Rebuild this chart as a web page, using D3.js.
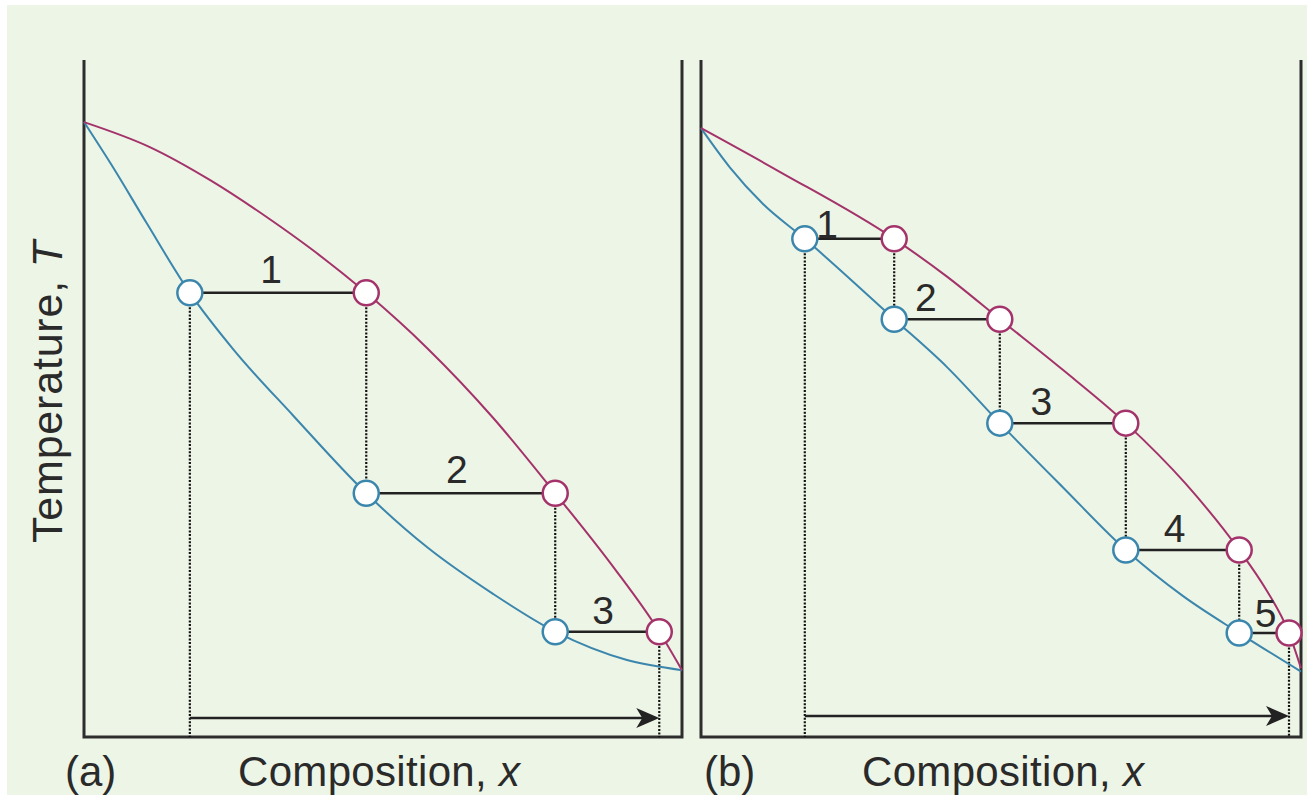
<!DOCTYPE html>
<html>
<head>
<meta charset="utf-8">
<script src="https://cdn.jsdelivr.net/npm/d3@7"></script>
<style>
  html, body { margin: 0; padding: 0; background: #fff; }
  svg { display: block; }
</style>
</head>
<body>
<div id="chart"></div>
<script>
// Boundary curves, [composition x, temperature T] (T on a 0..100 scale)
const upperA = [[0, 91.1], [0.110, 87.4], [0.211, 82.5], [0.306, 77.0], [0.383, 72.1], [0.472, 65.8],
                [0.574, 57.6], [0.684, 47.3], [0.788, 36.1], [0.885, 25.2], [0.962, 15.6], [1, 9.9]];
const lowerA = [[0, 91.1], [0.0485, 84.4], [0.105, 76.1], [0.177, 65.8], [0.25, 57.4], [0.35, 47.6],
                [0.472, 36.1], [0.574, 28.1], [0.684, 21.2], [0.788, 15.6], [0.908, 11.4], [1, 9.9]];
const upperB = [[0, 90.2], [0.132, 83.7], [0.322, 73.8], [0.41, 68.2], [0.498, 61.9], [0.603, 54.4],
                [0.708, 46.5], [0.807, 37.6], [0.897, 27.7], [0.94, 22.1], [0.980, 15.4], [1, 10.2]];
const lowerB = [[0, 90.2], [0.048, 84.4], [0.103, 79.0], [0.173, 73.8], [0.322, 61.9], [0.41, 54.8],
                [0.498, 46.5], [0.603, 37.0], [0.708, 27.7], [0.803, 20.9], [0.897, 15.4], [1, 9.7]];

// Stage compositions (each tie line i runs from stage i to stage i+1) and tie temperatures
const stagesA = [0.177, 0.472, 0.788, 0.962];
const tieTA = [65.8, 36.1, 15.6];
const stagesB = [0.173, 0.322, 0.498, 0.708, 0.897, 0.980];
const tieTB = [73.8, 61.9, 46.5, 27.7, 15.4];

const stepLabelsA = ["1", "2", "3"];
const stepLabelsB = ["1", "2", "3", "4", "5"];
const panelNames = ["(a)", "(b)"];
const xTitle = "Composition, ";
const yTitle = "Temperature, ";

// Colours
const colors = {
    bg: "#edf5e6",
    axis: "#2d2d2d",
    upper: "#a3336a",
    lower: "#3b86ad",
    tie: "#222"
};

const W = 1307, H = 799;
const svg = d3.select("#chart").append("svg")
    .attr("width", W)
    .attr("height", H)
    .style("font-family", "'Liberation Sans', Arial, sans-serif");

svg.append("rect")
    .attr("x", 7).attr("y", 5)
    .attr("width", W - 7).attr("height", H - 9)
    .attr("fill", colors.bg);

const panels = [
    { name: panelNames[0], upper: upperA, lower: lowerA, stages: stagesA, ties: tieTA, labels: stepLabelsA,
      left: 84, right: 682, arrowY: 718, labelFrac: [0.46, 0.48, 0.46], labelDy: [-10, -10, -8],
      nameX: 65, titleX: 379 },
    { name: panelNames[1], upper: upperB, lower: lowerB, stages: stagesB, ties: tieTB, labels: stepLabelsB,
      left: 701, right: 1301, arrowY: 716, labelFrac: [0.25, 0.3, 0.33, 0.43, 0.53], labelDy: [-1, -8, -8, -8, -6],
      nameX: 704, titleX: 1003 }
];

const plotTop = 60, plotBottom = 737;
const y = d3.scaleLinear().domain([0, 100]).range([plotBottom, plotTop + 2]);

panels.forEach(p => {
    const x = d3.scaleLinear().domain([0, 1]).range([p.left, p.right]);
    const g = svg.append("g");

    // frame: two verticals and the base
    g.append("path")
        .attr("d", `M${p.left},${plotTop}V${plotBottom}H${p.right}V${plotTop}`)
        .attr("fill", "none")
        .attr("stroke", colors.axis)
        .attr("stroke-width", 3);

    const n = p.stages.length - 1;

    // dotted drop lines
    const drops = [[p.stages[0], p.ties[0], 0]];
    for (let i = 0; i < n - 1; i++) drops.push([p.stages[i + 1], p.ties[i], p.ties[i + 1]]);
    drops.push([p.stages[n], p.ties[n - 1], 0]);
    g.selectAll("line.drop").data(drops).join("line")
        .attr("class", "drop")
        .attr("x1", d => x(d[0])).attr("x2", d => x(d[0]))
        .attr("y1", d => y(d[1])).attr("y2", d => d[2] === 0 ? plotBottom : y(d[2]))
        .attr("stroke", "#111")
        .attr("stroke-width", 2.2)
        .attr("stroke-dasharray", "2,1.6");

    // tie lines
    g.selectAll("line.tie").data(p.ties).join("line")
        .attr("class", "tie")
        .attr("x1", (d, i) => x(p.stages[i])).attr("x2", (d, i) => x(p.stages[i + 1]))
        .attr("y1", d => y(d)).attr("y2", d => y(d))
        .attr("stroke", colors.tie)
        .attr("stroke-width", 2.5);

    // curves
    const line = d3.line().x(d => x(d[0])).y(d => y(d[1])).curve(d3.curveMonotoneX);
    g.append("path").datum(p.lower)
        .attr("d", line).attr("fill", "none")
        .attr("stroke", colors.lower).attr("stroke-width", 2);
    g.append("path").datum(p.upper)
        .attr("d", line).attr("fill", "none")
        .attr("stroke", colors.upper).attr("stroke-width", 2);

    // arrow along the base
    const x0 = x(p.stages[0]), x1 = x(p.stages[n]), ay = p.arrowY;
    g.append("line")
        .attr("x1", x0).attr("x2", x1 - 14)
        .attr("y1", ay).attr("y2", ay)
        .attr("stroke", colors.tie).attr("stroke-width", 2.5);
    g.append("path")
        .attr("d", `M${x1},${ay}L${x1 - 23},${ay - 10}L${x1 - 17},${ay}L${x1 - 23},${ay + 10}Z`)
        .attr("fill", colors.tie);

    // circles
    const circles = [];
    p.ties.forEach((t, i) => {
        circles.push({ cx: p.stages[i], t: t, c: colors.lower });
        circles.push({ cx: p.stages[i + 1], t: t, c: colors.upper });
    });
    g.selectAll("circle").data(circles).join("circle")
        .attr("cx", d => x(d.cx)).attr("cy", d => y(d.t))
        .attr("r", 12.5)
        .attr("fill", "#fff")
        .attr("stroke", d => d.c)
        .attr("stroke-width", 2.5);

    // step numbers
    g.selectAll("text.step").data(p.labels).join("text")
        .attr("class", "step")
        .attr("x", (d, i) => x(p.stages[i]) + p.labelFrac[i] * (x(p.stages[i + 1]) - x(p.stages[i])))
        .attr("y", (d, i) => y(p.ties[i]) + p.labelDy[i])
        .attr("text-anchor", "middle")
        .attr("font-size", 39)
        .attr("fill", "#2a2a2a")
        .text(d => d);

    // panel name and x title
    g.append("text")
        .attr("x", p.nameX).attr("y", 786)
        .attr("font-size", 42).attr("fill", "#2a2a2a")
        .text(p.name);
    const xt = g.append("text")
        .attr("x", p.titleX).attr("y", 786)
        .attr("text-anchor", "middle")
        .attr("font-size", 42).attr("fill", "#2a2a2a")
        .attr("textLength", 282).attr("lengthAdjust", "spacing");
    xt.append("tspan").text(xTitle);
    xt.append("tspan").attr("font-style", "italic").text("x");
});

// y title
const yt = svg.append("text")
    .attr("transform", "translate(62,392) rotate(-90)")
    .attr("text-anchor", "middle")
    .attr("font-size", 43).attr("fill", "#2a2a2a")
    .attr("textLength", 302).attr("lengthAdjust", "spacing");
yt.append("tspan").text(yTitle);
yt.append("tspan").attr("font-style", "italic").text("T");
</script>
</body>
</html>
